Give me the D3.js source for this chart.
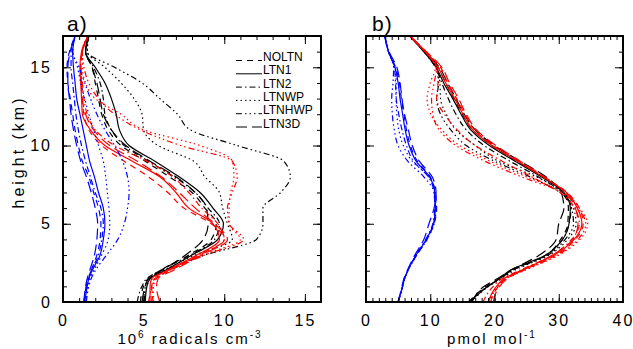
<!DOCTYPE html>
<html>
<head>
<meta charset="utf-8">
<script src="https://cdn.jsdelivr.net/npm/d3@7"></script>
<style>
  body { margin: 0; background: #fff; }
  svg text { font-family: "Liberation Sans", Arial, sans-serif; fill: #000; }
</style>
</head>
<body>
<div id="chart"></div>
<script>
var heights = [0, 1, 1.5, 2, 3, 4, 5, 6, 7, 8, 9, 10, 11, 12, 13, 14, 15, 16, 17];
var runs = ["NOLTN", "LTN1", "LTN2", "LTNWP", "LTNHWP", "LTN3D"];

// panel a: OH, 10^6 radicals cm-3 (one row per run, same order as runs)
var aBlack = [
  [4.8,5.0,5.3,6.0,7.8,9.2,9.5,8.8,8.0,6.6,5.1,3.6,2.8,2.4,2.2,2.0,1.8,1.4,1.6],
  [5.1,5.2,5.4,6.3,8.0,9.6,9.95,9.3,8.5,7.2,5.7,4.1,3.5,3.3,3.0,2.6,2.0,1.4,1.6],
  [4.6,4.9,5.2,6.0,7.9,9.4,9.7,9.0,8.2,6.9,5.3,3.8,3.0,2.6,2.5,2.3,1.9,1.4,1.6],
  [5.0,5.1,5.3,6.2,8.2,10.5,10.2,9.9,9.7,8.8,8.1,5.9,5.0,4.9,4.4,3.6,2.6,1.5,1.6],
  [5.0,5.2,5.4,6.3,8.8,12.0,12.4,12.4,13.5,14.1,13.7,10.8,7.9,7.1,6.0,4.9,3.2,1.5,1.6],
  [4.9,5.1,5.3,6.1,7.6,8.7,9.0,8.9,8.2,7.0,5.4,3.9,3.0,2.5,2.3,2.1,1.8,1.4,1.6]
];
var aRed = [
  [5.6,5.5,5.7,6.6,8.5,10.0,9.2,7.5,6.5,5.3,3.8,2.4,1.6,1.3,1.2,1.15,1.1,1.2,1.55],
  [5.4,5.4,5.5,6.4,8.3,9.7,9.3,7.8,7.0,6.0,4.3,2.6,1.7,1.2,1.15,1.1,1.05,1.15,1.55],
  [5.3,5.5,5.6,6.5,8.4,10.0,9.6,8.6,7.8,6.8,5.2,3.2,2.0,1.5,1.3,1.2,1.1,1.2,1.55],
  [5.6,5.6,5.7,6.5,8.6,11.0,10.3,10.3,10.4,10.6,10.5,8.5,5.0,3.6,2.0,1.4,1.2,1.2,1.55],
  [5.5,5.6,5.8,6.6,8.8,11.2,10.3,10.2,10.5,10.8,10.5,7.3,4.8,3.2,2.2,1.6,1.3,1.2,1.55],
  [6.0,5.8,5.9,6.8,8.6,10.2,9.4,8.2,7.2,6.1,4.6,2.9,1.9,1.4,1.2,1.15,1.1,1.2,1.55]
];
var aBlue = [
  [1.3,1.45,1.6,1.75,2.1,2.3,2.35,2.2,1.9,1.6,1.2,0.95,0.75,0.6,0.45,0.3,0.25,0.4,0.75],
  [1.35,1.5,1.6,1.8,2.3,2.5,2.6,2.5,2.2,1.95,1.65,1.45,1.25,1.05,0.85,0.75,0.65,0.6,0.75],
  [1.3,1.45,1.55,1.75,2.2,2.4,2.5,2.35,2.0,1.7,1.4,1.15,0.95,0.8,0.7,0.6,0.5,0.5,0.75],
  [1.4,1.55,1.65,1.9,2.4,2.8,2.9,2.85,2.75,2.65,2.5,2.2,1.9,1.6,1.35,1.1,0.9,0.6,0.75],
  [1.45,1.6,1.75,2.0,2.7,3.4,3.8,4.0,4.1,4.0,3.7,3.2,2.6,2.1,1.7,1.35,1.0,0.6,0.75],
  [1.3,1.4,1.5,1.65,1.95,2.1,2.15,2.0,1.75,1.45,1.1,0.85,0.65,0.5,0.4,0.3,0.3,0.45,0.75]
];

// panel b: pmol mol-1
var bBlack = [
  [16.0,18.7,20.8,22.6,28.0,30.3,31.4,31.5,30.6,27.5,23.5,19.6,16.6,15.0,13.7,12.4,11.2,9.2,6.8],
  [16.1,19.0,20.8,22.3,28.0,30.6,31.6,31.8,30.8,27.3,23.2,19.2,16.3,14.8,13.5,12.1,10.9,9.0,6.8],
  [16.3,18.9,20.9,22.7,28.1,30.6,31.6,31.9,30.6,26.8,22.4,18.4,15.6,14.0,12.8,11.8,10.8,9.0,6.8],
  [16.4,19.1,21.1,23.0,28.5,31.4,32.7,32.3,30.6,26.5,20.6,17.0,14.0,12.5,11.6,11.5,11.0,9.0,6.8],
  [16.2,19.0,20.8,22.6,28.3,31.0,32.3,32.0,30.2,25.5,20.0,15.6,13.2,11.6,11.0,11.3,11.0,9.0,6.8],
  [16.5,18.4,20.5,22.4,27.0,29.6,30.0,30.8,30.4,28.0,24.0,20.0,17.0,15.3,14.0,12.7,11.4,9.2,6.8]
];
var bRed = [
  [19.4,20.6,21.8,24.3,29.6,32.6,33.8,33.2,31.3,27.6,23.7,19.8,16.9,15.4,14.1,12.7,11.6,9.3,6.8],
  [19.0,20.3,21.5,24.0,29.3,32.4,33.6,32.9,31.2,27.5,23.6,19.6,16.6,15.1,13.8,12.4,11.2,9.2,6.8],
  [18.2,19.8,21.2,23.8,29.0,32.0,33.2,32.5,30.2,25.8,21.2,17.0,14.2,12.2,11.0,11.2,11.0,9.2,6.8],
  [19.2,20.6,21.9,24.6,30.0,33.3,34.5,33.2,30.8,25.0,19.3,14.6,11.8,10.1,9.5,10.0,10.8,9.2,6.8],
  [19.0,20.5,21.7,24.4,29.8,33.0,34.2,33.0,30.5,24.2,18.5,14.0,11.4,10.4,10.2,10.6,11.0,9.2,6.8],
  [19.8,20.8,22.0,24.2,29.0,32.2,33.0,32.6,31.0,27.8,24.0,20.2,17.2,15.6,14.4,13.0,11.8,9.4,6.8]
];
var bBlue = [
  [5.0,5.7,6.0,6.5,7.9,9.5,10.6,11.0,10.8,10.0,8.0,6.9,6.3,5.9,5.5,5.2,4.6,3.5,2.9],
  [5.0,5.7,6.0,6.5,7.8,9.4,10.5,10.8,10.7,9.9,7.8,6.7,6.1,5.7,5.3,5.0,4.5,3.5,2.9],
  [5.0,5.7,6.0,6.5,7.8,9.3,10.4,10.7,10.6,9.7,7.4,6.3,5.6,5.1,4.7,4.6,4.4,3.5,2.9],
  [5.0,5.7,6.0,6.5,7.9,9.5,10.6,10.9,10.8,9.8,7.2,5.8,5.1,4.8,4.7,4.7,4.5,3.5,2.9],
  [5.0,5.7,6.0,6.5,7.8,9.4,10.5,10.8,10.6,9.0,6.5,5.0,4.4,4.1,4.0,4.2,4.3,3.5,2.9],
  [5.0,5.6,5.9,6.4,7.6,9.0,9.8,10.6,10.9,10.3,8.3,7.2,6.6,6.0,5.6,5.3,4.8,3.6,2.9]
];

var yTicks = [0, 5, 10, 15];
var xTicksA = [0, 5, 10, 15];
var xTicksB = [0, 10, 20, 30, 40];

// IDL-like line styles, one per run
var dashes = ["6,5", null, "6,3,1.5,3", "1.5,3", "6,3,1.5,3,1.5,3,1.5,3", "11,5"];

var W = 633, H = 349;
var plotTop = 36, plotBottom = 302;

var svg = d3.select("#chart").append("svg")
  .attr("width", W)
  .attr("height", H);

var y = d3.scaleLinear().domain([0, 17]).range([plotBottom, plotTop]);

function styleAxis(g) {
  g.select(".domain").remove();
  g.selectAll("line").attr("stroke", "#000").attr("stroke-width", 1);
  g.selectAll("text")
    .attr("font-size", 16)
    .attr("font-family", "Liberation Sans, Arial, sans-serif")
    .style("letter-spacing", "2px")
    .attr("fill", "#000");
}

function drawPanel(id, left, right, xMax, xTicks, sets, showY) {
  var x = d3.scaleLinear().domain([0, xMax]).range([left, right]);
  var g = svg.append("g").attr("class", "panel_" + id);

  g.append("clipPath").attr("id", "clip_" + id)
    .append("rect")
    .attr("x", left).attr("y", plotTop)
    .attr("width", right - left).attr("height", plotBottom - plotTop);

  // profiles
  var line = d3.line()
    .x(d => x(d[1]))
    .y(d => y(d[0]))
    .curve(d3.curveMonotoneY);

  var lines = g.append("g").attr("clip-path", "url(#clip_" + id + ")");
  sets.forEach(function(s) {
    s.rows.forEach(function(row, i) {
      lines.append("path")
        .datum(heights.map((h, k) => [h, row[k]]))
        .attr("fill", "none")
        .attr("stroke", s.color)
        .attr("stroke-width", 1.2)
        .attr("stroke-dasharray", dashes[i])
        .attr("d", line);
    });
  });

  var minorX = d3.range(0, xMax + 0.001, 1);
  var minorY = d3.range(0, 17.001, 1);

  // minor ticks, all four sides
  g.append("g").attr("transform", `translate(0,${plotBottom})`)
    .call(d3.axisBottom(x).tickValues(minorX).tickSize(-4).tickFormat("")).call(styleAxis);
  g.append("g").attr("transform", `translate(0,${plotTop})`)
    .call(d3.axisTop(x).tickValues(minorX).tickSize(-4).tickFormat("")).call(styleAxis);
  g.append("g").attr("transform", `translate(${left},0)`)
    .call(d3.axisLeft(y).tickValues(minorY).tickSize(-4).tickFormat("")).call(styleAxis);
  g.append("g").attr("transform", `translate(${right},0)`)
    .call(d3.axisRight(y).tickValues(minorY).tickSize(-4).tickFormat("")).call(styleAxis);

  // major ticks
  g.append("g").attr("transform", `translate(0,${plotBottom})`)
    .call(d3.axisBottom(x).tickValues(xTicks).tickSize(-8).tickPadding(13).tickFormat(d3.format("d")))
    .call(styleAxis);
  g.append("g").attr("transform", `translate(0,${plotTop})`)
    .call(d3.axisTop(x).tickValues(xTicks).tickSize(-8).tickFormat("")).call(styleAxis);
  g.append("g").attr("transform", `translate(${left},0)`)
    .call(d3.axisLeft(y).tickValues(yTicks).tickSize(-8).tickPadding(11)
      .tickFormat(showY ? d3.format("d") : ""))
    .call(styleAxis);
  g.append("g").attr("transform", `translate(${right},0)`)
    .call(d3.axisRight(y).tickValues(yTicks).tickSize(-8).tickFormat("")).call(styleAxis);

  // frame
  g.append("rect")
    .attr("x", left).attr("y", plotTop)
    .attr("width", right - left).attr("height", plotBottom - plotTop)
    .attr("fill", "none")
    .attr("stroke", "#000")
    .attr("stroke-width", 2);

  return x;
}

drawPanel("a", 63, 321, 16, xTicksA,
  [{color: "#000", rows: aBlack}, {color: "#ff0000", rows: aRed}, {color: "#0000ff", rows: aBlue}], true);
drawPanel("b", 366, 623, 40, xTicksB,
  [{color: "#000", rows: bBlack}, {color: "#ff0000", rows: bRed}, {color: "#0000ff", rows: bBlue}], false);

// panel letters
svg.append("text").attr("x", 67).attr("y", 31).attr("font-size", 21)
  .style("letter-spacing", "1px").text("a)");
svg.append("text").attr("x", 372).attr("y", 31).attr("font-size", 21)
  .style("letter-spacing", "1px").text("b)");

// y title
svg.append("text")
  .attr("transform", "translate(24,152) rotate(-90)")
  .attr("text-anchor", "middle")
  .attr("font-size", 16)
  .style("letter-spacing", "3px")
  .text("height (km)");

// x titles
var xa = svg.append("text")
  .attr("x", 190).attr("y", 344)
  .attr("text-anchor", "middle")
  .attr("font-size", 15)
  .style("letter-spacing", "2px");
xa.append("tspan").text("10");
xa.append("tspan").attr("dy", -6).attr("font-size", 10).text("6");
xa.append("tspan").attr("dy", 6).text(" radicals cm");
xa.append("tspan").attr("dy", -6).attr("font-size", 10).text("-3");

var xb = svg.append("text")
  .attr("x", 492).attr("y", 344)
  .attr("text-anchor", "middle")
  .attr("font-size", 15)
  .style("letter-spacing", "2px");
xb.append("tspan").text("pmol mol");
xb.append("tspan").attr("dy", -6).attr("font-size", 10).text("-1");

// legend, top right of panel a
var legend = svg.append("g").attr("class", "legend");
runs.forEach(function(r, i) {
  var yy = 61 + i * 13.3;
  legend.append("line")
    .attr("x1", 236).attr("x2", 262)
    .attr("y1", yy - 0.5).attr("y2", yy - 0.5)
    .attr("stroke", "#000")
    .attr("stroke-width", 1)
    .attr("stroke-dasharray", dashes[i]);
  legend.append("text")
    .attr("x", 263).attr("y", yy)
    .attr("font-size", 12)
    .text(r);
});
</script>
</body>
</html>
